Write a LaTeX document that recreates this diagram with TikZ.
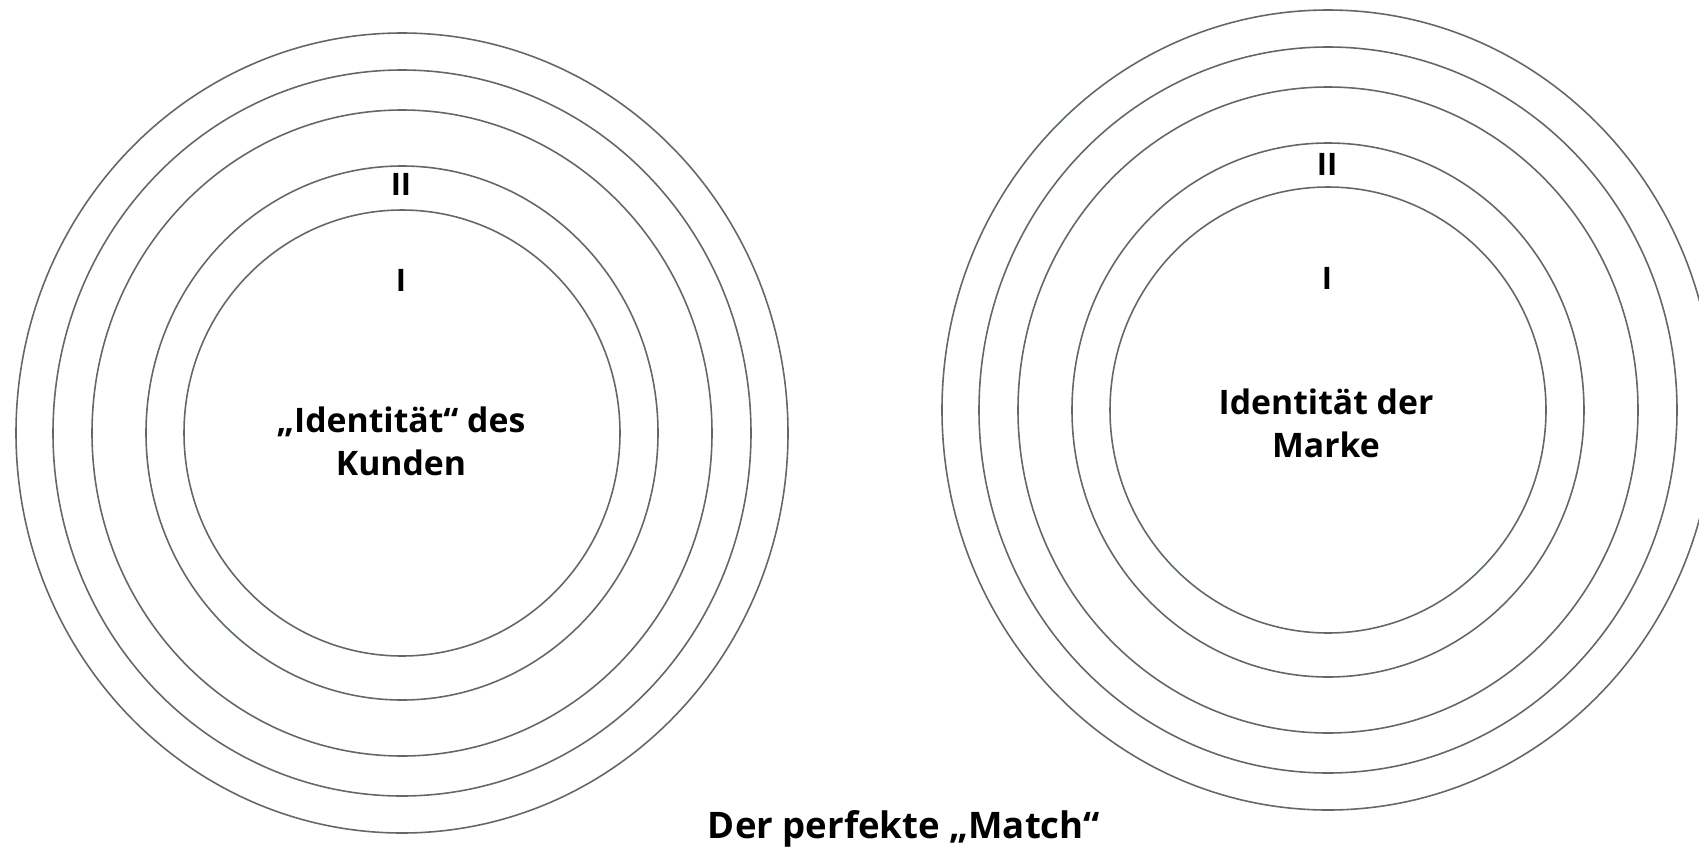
\documentclass[tikz,border=0pt]{standalone}
\usepackage{fontspec}
\setmainfont{Open Sans}
\usepackage{xcolor}
\usepackage{tikz}
\definecolor{ringgray}{RGB}{95,105,108}

\begin{document}
\begin{tikzpicture}[
  x=0.01cm, y=0.01cm,
  ring/.style={draw=ringgray, line width=0.45pt},
  label/.style={font=\fontsize{9.6}{12.2}\selectfont\bfseries, align=center, inner sep=0pt},
  level/.style={font=\fontsize{8.8}{10}\selectfont\bfseries, inner sep=0pt},
]
\useasboundingbox (0,0) rectangle (1699,850);

% Centres
\coordinate (kunde) at (402,417);
\coordinate (marke) at (1328,440);

% Rings
\draw[ring] (kunde) ellipse [x radius=386, y radius=400];
\draw[ring] (kunde) ellipse [x radius=349, y radius=363];
\draw[ring] (kunde) ellipse [x radius=310, y radius=323];
\draw[ring] (kunde) ellipse [x radius=256, y radius=267];
\draw[ring] (kunde) ellipse [x radius=218, y radius=223];

\draw[ring] (marke) ellipse [x radius=386, y radius=400];
\draw[ring] (marke) ellipse [x radius=349, y radius=363];
\draw[ring] (marke) ellipse [x radius=310, y radius=323];
\draw[ring] (marke) ellipse [x radius=256, y radius=267];
\draw[ring] (marke) ellipse [x radius=218, y radius=223];

% Nodes
\node[label] (kundetext) at (401,409) {„Identität“ des\\Kunden};
\node[level] (kundeII) at (401,666) {II};
\node[level] (kundeI) at (401,570) {I};

\node[label] (marketext) at (1326,427) {Identität der\\Marke};
\node[level] (markeII) at (1327,686) {II};
\node[level] (markeI) at (1327,572) {I};

\node[label, font=\fontsize{10.4}{12.2}\selectfont\bfseries, anchor=base] (match) at (904,12) {Der perfekte „Match“};

\end{tikzpicture}
\end{document}
